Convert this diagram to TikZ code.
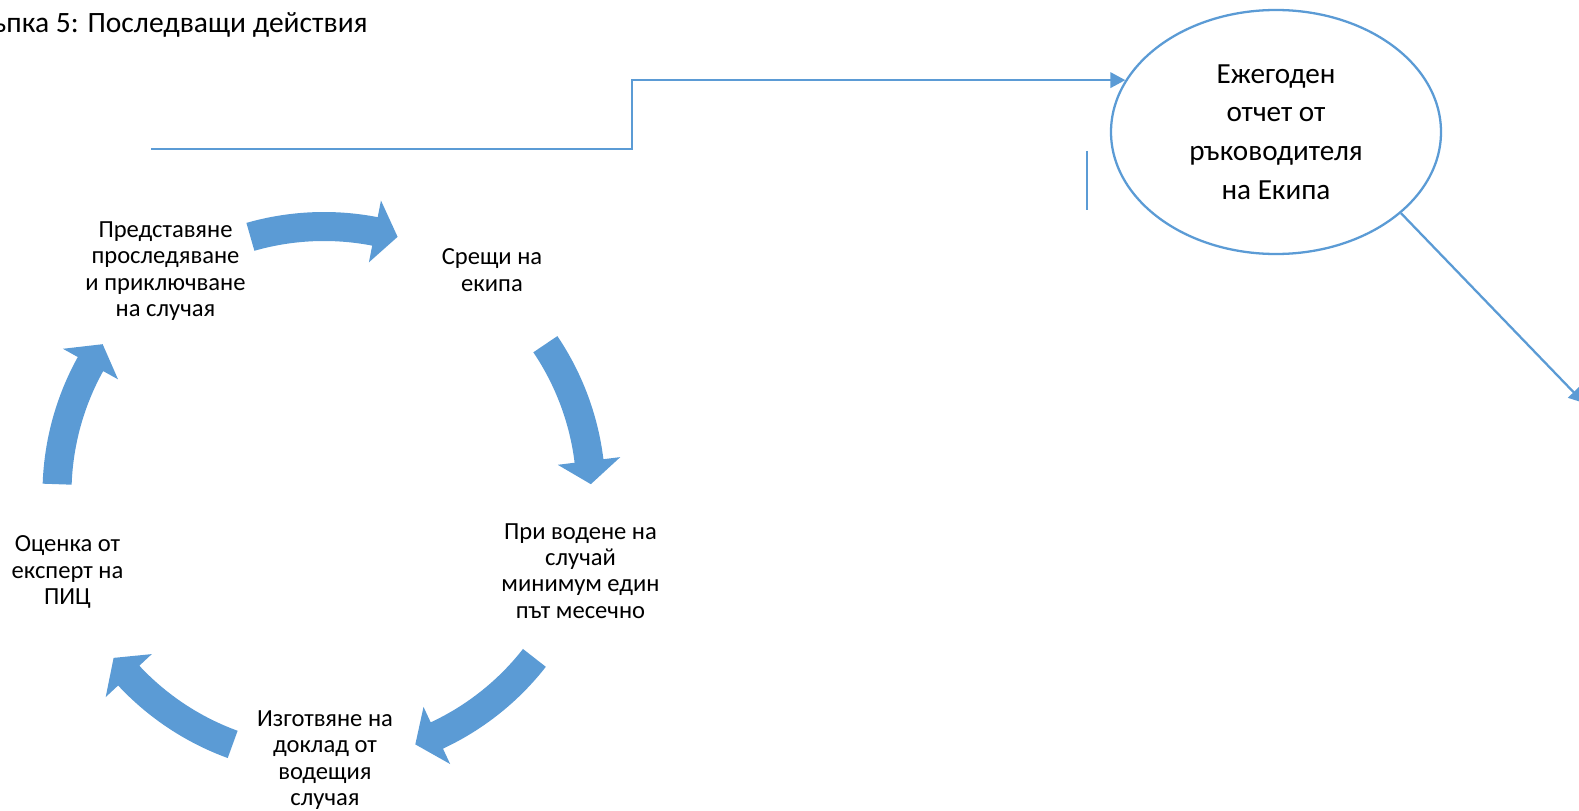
\documentclass[tikz,border=0pt]{standalone}
\usepackage{fontspec}
\setmainfont{Carlito}
\usepackage{tikz}
\usetikzlibrary{arrows.meta,shapes.geometric}
\definecolor{cyc_blue}{RGB}{91,155,213}
\definecolor{text_black}{RGB}{0,0,0}
\newcommand\cycarrow[1]{%
  \fill[cycfill] (#1+16:281.5) arc[start angle=#1+16, end angle=#1-11, radius=281.5]
    -- (#1-11:298.5) -- (#1-16:267) -- (#1-11:235.5) -- (#1-11:252.5)
    arc[start angle=#1-11, end angle=#1+16, radius=252.5] -- cycle;}
\begin{document}
\begin{tikzpicture}[x=0.02cm,y=0.02cm]
    \tikzstyle{stage}=[align=center,text=text_black,inner sep=0pt,font=\fontsize{14}{15}\selectfont]
    \tikzstyle{cycfill}=[fill=cyc_blue]
    \tikzstyle{link}=[draw=cyc_blue,line width=1.3pt,-{Triangle[length=0.3cm,width=0.31cm]}]
    \tikzstyle{report}=[draw=cyc_blue,line width=1.3pt,ellipse,minimum width=330*0.02cm,minimum height=244*0.02cm,align=center,inner sep=0pt,font=\fontsize{16.6}{22}\selectfont]
    \useasboundingbox (0,0) rectangle (1579,-811);

    \node[anchor=base east,inner sep=0pt,font=\fontsize{16.8}{19}\selectfont] (title) at (368,-32.3) {Стъпка 5: Последващи действия};

    % cycle
    \node[stage] (present) at (165.5,-271) {Представяне\\проследяване\\и приключване\\на случая};
    \node[stage] (meet)    at (492,-270)   {Срещи на\\екипа};
    \node[stage] (lead)    at (580.5,-571) {При водене на\\случай\\минимум един\\път месечно};
    \node[stage] (draft)   at (325,-760)   {Изготвяне на\\доклад от\\водещия\\случая};
    \node[stage] (assess)  at (67.5,-572)  {Оценка от\\експерт на\\ПИЦ};

    \begin{scope}[shift={(324,-493.5)}]
      \cycarrow{90}
      \cycarrow{18}
      \cycarrow{-54}
      \cycarrow{-126}
      \cycarrow{-198}
    \end{scope}

    % annual report
    \node[report] (rep) at (1276,-132) {Ежегоден\\отчет от\\ръководителя\\на Екипа};
    \coordinate (feed) at (151,-149);
    \coordinate (turn) at (632,-149);
    \coordinate (out)  at (1584,-403);
    \coordinate (tickA) at (1087,-151);
    \coordinate (tickB) at (1087,-210);

    \draw[link] (feed) -- (turn) |- (rep.161.5);
    \draw[link] (rep.-33) -- (out);
    \draw[draw=cyc_blue,line width=0.9pt] (tickA) -- (tickB);
\end{tikzpicture}
\end{document}
